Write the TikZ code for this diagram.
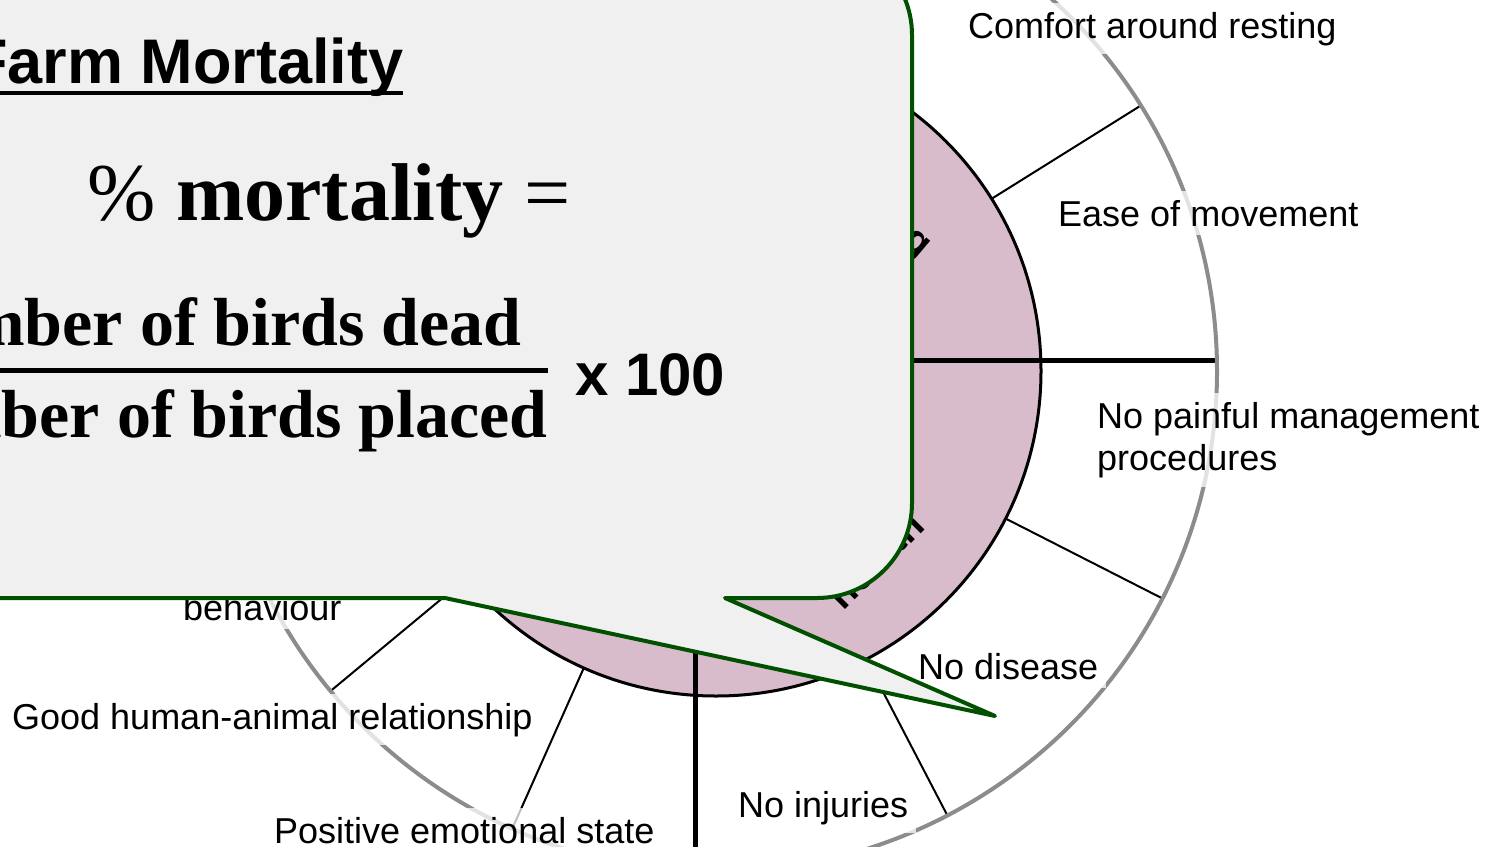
\documentclass[tikz,border=0pt]{standalone}
\usepackage{fontspec}
\newfontfamily\lsans{Liberation Sans}
\newfontfamily\lserif{Liberation Serif}
\usetikzlibrary{calc}
\definecolor{ringpink}{RGB}{217,188,203}
\definecolor{callgreen}{RGB}{0,80,0}
\definecolor{callfill}{RGB}{240,240,240}
\definecolor{rimgray}{RGB}{140,140,140}
\begin{document}
\begin{tikzpicture}[x=1bp,y=-1bp,
  lbl/.style={font=\lsans\fontsize{36bp}{42bp}\selectfont, fill=white, fill opacity=0.75, text opacity=1, inner xsep=8bp, inner ysep=9bp, align=left},
  spoke/.style={line width=2bp, draw=black},
  crossline/.style={line width=5bp, draw=black},
  rim/.style={line width=4bp, draw=rimgray},
  ftxt/.style={inner sep=0pt, text=black},
  princ/.style={inner sep=0pt, font=\lsans\bfseries\fontsize{40bp}{48bp}\selectfont},
  callout/.style={line width=4bp, draw=callgreen, fill=callfill, line join=round}]
\useasboundingbox (0,0) rectangle (1486,846);
\clip (0,0) rectangle (1486,846);
\coordinate (C) at (716,371);
% wheel
\fill[ringpink] (C) circle[radius=325];
\coordinate (hL) at (215,360);
\coordinate (hR) at (1217,360);
\coordinate (vT) at (695,-130);
\coordinate (vB) at (695,871);
\draw[crossline] (hL) -- (hR);
\draw[crossline] (vT) -- (vB);
\draw[line width=3bp] (C) circle[radius=325];
\foreach \a in {-32,27,62.5,114,140.3}
  \draw[spoke] ($(C)+(\a:325)$) -- ($(C)+(\a:501)$);
\draw[rim] (C) circle[radius=501];
% principle names (mostly hidden under the callout)
\node[princ, rotate=45, align=center, anchor=south, text depth=0pt] (health) at (885,570) {Good\\health};
\node[princ, rotate=-40, anchor=base east] (housing) at (919,259) {Good housing};
% criteria labels
\node[lbl, anchor=base west] (comfort) at (960,38) {Comfort around resting};
\node[lbl, anchor=base west] (ease) at (1050,226) {Ease of movement};
\node[lbl, anchor=north west] (painful) at (1089,393) {No painful management\\procedures};
\node[lbl, anchor=base west] (disease) at (910,679) {No disease};
\node[lbl, anchor=base west] (injuries) at (730,817) {No injuries};
\node[lbl, anchor=base west] (emotional) at (266,843) {Positive emotional state};
\node[lbl, anchor=base west] (human) at (4,729) {Good human-animal relationship};
\node[lbl, anchor=base west] (behav) at (175,620) {behaviour};
% callout
\draw[callout] (-20,-60) -- (817,-60) arc[start angle=-90,end angle=0,radius=95]
  -- (912,503) arc[start angle=0,end angle=90,radius=95]
  -- (725,598) -- (995,716) -- (445,598) -- (-20,598) -- cycle;
% formula
\node[ftxt, anchor=base west, font=\lsans\bfseries\fontsize{63bp}{70bp}\selectfont] (title) at (-31,83) {Farm Mortality};
\draw[line width=4bp] ([yshift=-10bp]title.base west) -- ([yshift=-10bp]title.base east);
\node[ftxt, anchor=base west, font=\lserif\fontsize{82bp}{90bp}\selectfont] (lhs) at (87,220) {\% \textbf{mortality} =};
\node[ftxt, anchor=base east, font=\lserif\bfseries\fontsize{68bp}{76bp}\selectfont] (num) at (522,345) {Number of birds dead};
\node[ftxt, anchor=base east, font=\lserif\bfseries\fontsize{68bp}{76bp}\selectfont] (den) at (548,437) {Number of birds placed};
\coordinate (barR) at (548,370);
\draw[line width=5bp] (den.west |- barR) -- (barR);
\node[ftxt, anchor=base west, font=\lsans\bfseries\fontsize{60bp}{66bp}\selectfont] (hundred) at (575,395) {x 100};
\end{tikzpicture}
\end{document}
